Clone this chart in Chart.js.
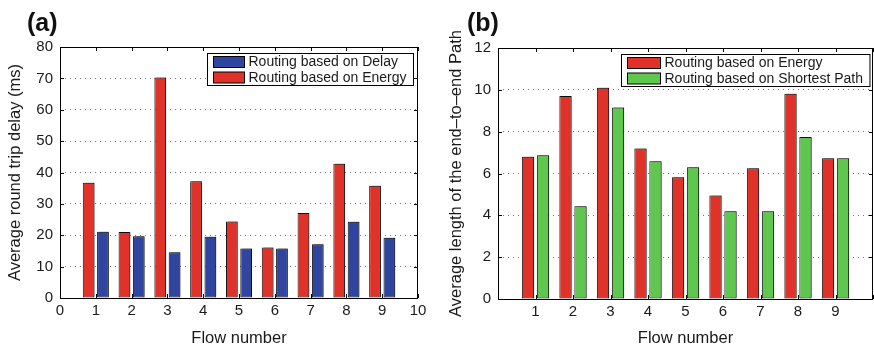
<!DOCTYPE html>
<html>
<head>
<meta charset="utf-8">
<script src="https://cdn.jsdelivr.net/npm/chart.js@4.4.1/dist/chart.umd.min.js"></script>
<style>
  html, body { margin: 0; padding: 0; background: #fff; overflow: hidden; }
  body { width: 874px; height: 348px; position: relative; font-family: "Liberation Sans", Arial, sans-serif; }
  .panel { position: absolute; top: 0; height: 348px; }
  .tag { position: absolute; font-weight: bold; font-size: 25px; line-height: 1; color: #111; }
</style>
</head>
<body>
<div class="panel" style="left:0;width:437px"><canvas id="chartA"></canvas></div>
<div class="panel" style="left:437px;width:440px"><canvas id="chartB"></canvas></div>
<div class="tag" style="left:27px;top:10px">(a)</div>
<div class="tag" style="left:467px;top:10px">(b)</div>
<script>
// flows on the x axis
const flows = [1, 2, 3, 4, 5, 6, 7, 8, 9];

// (a) average round trip delay, ms
const rttDelayRouting = [21.1, 19.7, 14.6, 19.5, 15.8, 15.8, 17.1, 24.3, 19.2];
const rttEnergyRouting = [36.7, 21.0, 70.3, 37.2, 24.4, 16.1, 27.1, 42.8, 35.8];

// (b) average length of the end-to-end path
const lenEnergyRouting = [6.80, 9.71, 10.1, 7.19, 5.82, 4.95, 6.25, 9.81, 6.73];
const lenShortestRouting = [6.87, 4.43, 9.15, 6.58, 6.30, 4.19, 4.19, 7.75, 6.73];

const xTicksA = ['0', '1', '2', '3', '4', '5', '6', '7', '8', '9', '10'];
const xTicksB = ['', '1', '2', '3', '4', '5', '6', '7', '8', '9', ''];

const RED = '#e03228';
const BLUE = '#2f45a0';
const GREEN = '#5fc74e';
const FONT = '"Liberation Sans", Arial, sans-serif';
const INK = '#1a1a1a';

const pts = vals => vals.map((v, i) => ({ x: flows[i], y: v }));

// grey drop shadow on the bars, like the exported figure
const barShadow = {
    id: 'barShadow',
    beforeDatasetsDraw(chart) {
        const ctx = chart.ctx;
        ctx.save();
        ctx.shadowColor = 'rgba(0,0,0,0.3)';
        ctx.shadowOffsetX = 2;
        ctx.shadowOffsetY = -1;
        ctx.shadowBlur = 0;
    },
    afterDatasetsDraw(chart) {
        chart.ctx.restore();
    }
};

// box around the plot with inward ticks, matlab style
const boxFrame = {
    id: 'boxFrame',
    afterDraw(chart) {
        const { ctx, chartArea: a, scales: { x, y } } = chart;
        ctx.save();
        ctx.strokeStyle = '#000';
        ctx.lineWidth = 1;
        ctx.beginPath();
        ctx.rect(a.left + 0.5, a.top + 0.5, a.right - a.left - 1, a.bottom - a.top);
        x.ticks.forEach(t => {
            const px = Math.round(x.getPixelForValue(t.value)) + 0.5;
            ctx.moveTo(px, a.top); ctx.lineTo(px, a.top + 4);
            ctx.moveTo(px, a.bottom); ctx.lineTo(px, a.bottom - 4);
        });
        y.ticks.forEach(t => {
            const py = Math.round(y.getPixelForValue(t.value)) + 0.5;
            ctx.moveTo(a.left, py); ctx.lineTo(a.left + 4, py);
            ctx.moveTo(a.right, py); ctx.lineTo(a.right - 4, py);
        });
        ctx.stroke();

        // legend box in the top right corner
        const opt = chart.options.plugins.boxFrame;
        const sets = opt.order.map(i => chart.data.datasets[i]);
        ctx.font = '14px ' + FONT;
        const textW = Math.max(...sets.map(d => ctx.measureText(d.label).width));
        const w = 6 + opt.swatch + 4 + textW + 7;
        const h = 32;
        const bx = Math.round(a.right - opt.margin - w) + 0.5;
        const by = a.top + 6.5;
        ctx.fillStyle = '#fff';
        ctx.fillRect(bx, by, w, h);
        ctx.strokeRect(bx, by, w, h);
        sets.forEach((d, i) => {
            const cy = by + 8 + i * 15.5;
            ctx.fillStyle = d.backgroundColor;
            ctx.fillRect(bx + 6, cy - 5, opt.swatch, 11);
            ctx.strokeRect(bx + 6, cy - 5, opt.swatch, 11);
            ctx.fillStyle = INK;
            ctx.textBaseline = 'middle';
            ctx.fillText(d.label, bx + 6 + opt.swatch + 4, cy + 1);
        });
        ctx.restore();
    }
};

function barChart(id, sets, yMax, yStep, yTitle, xLabels, pad, xHeight, yTitlePad, order, swatch, margin) {
    return new Chart(document.getElementById(id), {
        type: 'bar',
        data: {
            datasets: sets.map(s => ({
                label: s.label,
                data: pts(s.values),
                backgroundColor: s.color,
                borderColor: '#111',
                borderWidth: 1,
                borderSkipped: false,
                categoryPercentage: 0.8,
                barPercentage: 0.82
            }))
        },
        options: {
            responsive: true,
            maintainAspectRatio: false,
            animation: false,
            layout: { padding: pad },
            plugins: {
                legend: { display: false },
                tooltip: { enabled: false },
                boxFrame: { order: order, swatch: swatch, margin: margin }
            },
            scales: {
                x: {
                    type: 'linear',
                    min: 0,
                    max: 10,
                    offset: false,
                    grid: { display: false, drawTicks: false },
                    border: { display: false },
                    ticks: {
                        stepSize: 1,
                        padding: 4,
                        color: INK,
                        font: { family: FONT, size: 15 },
                        callback: (v, i) => xLabels[i]
                    },
                    title: {
                        display: true,
                        text: 'Flow number',
                        color: INK,
                        font: { family: FONT, size: 16.5 },
                        padding: { top: 0, bottom: 0 }
                    },
                    afterFit: s => { s.height = xHeight; }
                },
                y: {
                    min: 0,
                    max: yMax,
                    grid: {
                        color: '#777',
                        lineWidth: 1,
                        drawTicks: false
                    },
                    border: { display: false, dash: [1, 4] },
                    ticks: {
                        stepSize: yStep,
                        padding: 7,
                        color: INK,
                        font: { family: FONT, size: 15 }
                    },
                    title: {
                        display: true,
                        text: yTitle,
                        color: INK,
                        font: { family: FONT, size: 16.5 },
                        padding: { top: yTitlePad, bottom: 0 }
                    },
                    afterFit: s => { s.width = 60; }
                }
            }
        },
        plugins: [barShadow, boxFrame]
    });
}

barChart('chartA', [
    { label: 'Routing based on Energy', values: rttEnergyRouting, color: RED },
    { label: 'Routing based on Delay', values: rttDelayRouting, color: BLUE }
], 80, 10, 'Average round trip delay (ms)', xTicksA,
   { top: 47, right: 19, bottom: 0, left: 0 }, 50, 6, [1, 0], 31, 5);

barChart('chartB', [
    { label: 'Routing based on Energy', values: lenEnergyRouting, color: RED },
    { label: 'Routing based on Shortest Path', values: lenShortestRouting, color: GREEN }
], 12, 2, 'Average length of the end\u2013to\u2013end Path', xTicksB,
   { top: 48, right: 2, bottom: 0, left: 1 }, 49, 9, [0, 1], 33, 4);
</script>
</body>
</html>
